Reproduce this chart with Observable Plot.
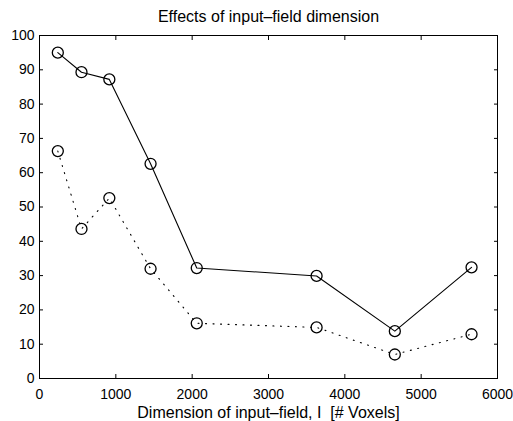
<!DOCTYPE html>
<html>
<head>
<meta charset="utf-8">
<script src="https://cdn.jsdelivr.net/npm/d3@7"></script>
<script src="https://cdn.jsdelivr.net/npm/@observablehq/plot@0.6"></script>
<style>
  html, body { margin: 0; padding: 0; background: #fff; }
  #chart svg { display: block; }
</style>
</head>
<body>
<div id="chart"></div>
<script>
const title = "Effects of input–field dimension";
const xLabel = "Dimension of input–field, I  [# Voxels]";
const dims = [240, 550, 915, 1455, 2060, 3630, 4655, 5660];
const solidSeries = [95.0, 89.3, 87.2, 62.6, 32.2, 29.9, 13.8, 32.4];
const dottedSeries = [66.3, 43.6, 52.6, 32.0, 16.1, 14.9, 7.0, 12.9];
const xTicks = [0, 1000, 2000, 3000, 4000, 5000, 6000];
const yTicks = [0, 10, 20, 30, 40, 50, 60, 70, 80, 90, 100];

const solid = dims.map((x, i) => ({x, y: solidSeries[i]}));
const dotted = dims.map((x, i) => ({x, y: dottedSeries[i]}));

const plot = Plot.plot({
  width: 513,
  height: 421,
  marginLeft: 39,
  marginRight: 16,
  marginTop: 35,
  marginBottom: 43,
  style: {fontFamily: "'Liberation Sans', Arial, sans-serif", fontSize: "16px", color: "black", background: "white"},
  x: {domain: [0, 6000]},
  y: {domain: [0, 100]},
  marks: [
    Plot.frame({stroke: "black", strokeWidth: 1}),
    Plot.axisX(xTicks, {anchor: "bottom", tickSize: -4, tickPadding: 15, fontSize: 14, tickFormat: d => String(d), label: null}),
    Plot.axisX(xTicks, {anchor: "top", tickSize: -4, tickFormat: () => "", label: null}),
    Plot.axisY(yTicks, {anchor: "left", tickSize: -4, tickPadding: 9, fontSize: 14, tickFormat: d => String(d), label: null}),
    Plot.axisY(yTicks, {anchor: "right", tickSize: -4, tickFormat: () => "", label: null}),
    Plot.line(solid, {x: "x", y: "y", stroke: "black", strokeWidth: 1.1}),
    Plot.line(dotted, {x: "x", y: "y", stroke: "black", strokeWidth: 1.1, strokeDasharray: "1,6.5", strokeLinecap: "round"}),
    Plot.dot(solid, {x: "x", y: "y", r: 5.5, stroke: "black", strokeWidth: 1.3, fill: "none"}),
    Plot.dot(dotted, {x: "x", y: "y", r: 5.5, stroke: "black", strokeWidth: 1.3, fill: "none"}),
    Plot.text([title], {frameAnchor: "top", dy: -14, lineAnchor: "bottom", text: d => d, fontSize: 16}),
    Plot.text([xLabel], {frameAnchor: "bottom", dy: 39, lineAnchor: "bottom", text: d => d, fontSize: 16})
  ]
});
document.getElementById("chart").appendChild(plot);
</script>
</body>
</html>
